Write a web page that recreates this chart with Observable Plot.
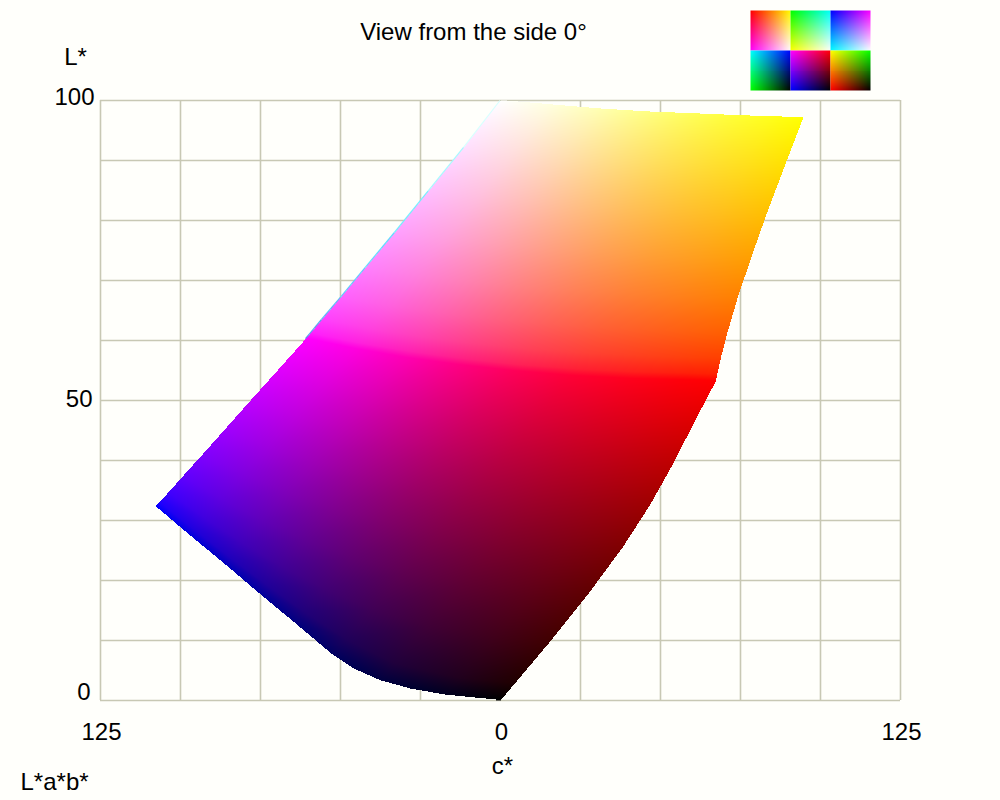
<!DOCTYPE html>
<html><head><meta charset="utf-8">
<script src="https://cdn.jsdelivr.net/npm/d3@7"></script>
<script src="https://cdn.jsdelivr.net/npm/@observablehq/plot@0.6"></script>
<style>html,body{margin:0;padding:0;background:#fffffb}svg{display:block}</style>
</head><body><div id="chart"></div>
<script>
// Axis ticks
const cGrid = [-125,-100,-75,-50,-25,0,25,50,75,100,125];
const lGrid = [0,10,20,30,40,50,60,70,80,90,100];
const cLabels = [-125,0,125];

// Displayed channel values of the mesh rows (red / green) and columns (blue)
const rowLevels = [255,223,191,159,128,96,64,32,0];
const blueLevels = [255,222,178,130,88,53,28,9,0];

// Upper face (white / yellow at the top, magenta / red at the bottom)
const upperC = [
 [0,15.3,30.7,45.9,60,73.2,84.1,91.3,94.5],
 [-11.4,4.1,19.8,35.4,50.3,64.5,76.6,84.9,88.6],
 [-22.5,-6.9,9,25.1,40.6,55.8,69.1,78.6,83],
 [-33,-17.4,-1.3,15.2,31.2,47.3,61.9,72.8,78.1],
 [-42.1,-26.5,-10.4,6.2,22.7,39.6,55.4,67.7,74],
 [-49.9,-34.5,-18.4,-1.7,15.1,32.6,49.4,63.3,70.8],
 [-55.8,-40.5,-24.5,-7.7,9.2,27.2,44.8,60,68.7],
 [-59.4,-44.2,-28.2,-11.4,5.6,23.8,41.9,58,67.6],
 [-60.8,-45.7,-29.7,-13,4.1,22.3,40.7,57.2,67.2]];
const upperL = [
 [100,99.3,98.6,98.1,97.8,97.5,97.3,97.2,97.1],
 [92.2,91.4,90.7,90.1,89.7,89.3,89.1,89,88.9],
 [84.9,83.9,83.1,82.4,81.9,81.5,81.2,81.1,81],
 [78,76.9,76,75.2,74.6,74.1,73.8,73.7,73.6],
 [72.2,70.9,69.8,68.9,68.2,67.7,67.3,67.1,67.1],
 [67.2,65.7,64.5,63.5,62.7,62.1,61.7,61.4,61.3],
 [63.5,61.9,60.5,59.4,58.5,57.8,57.4,57.1,57],
 [61.2,59.5,58.1,56.9,55.9,55.2,54.7,54.5,54.3],
 [60.3,58.6,57.1,55.9,54.9,54.1,53.6,53.4,53.2]];

// Lower face (magenta / red at the top, blue / black at the bottom)
const lowerC = [
 [-60.8,-45.7,-29.7,-13,4.1,22.3,40.7,57.2,67.2],
 [-69.7,-55,-39.4,-22.9,-5.9,12.5,31.4,49.1,60.7],
 [-78.3,-64.1,-48.9,-32.8,-16.1,2.2,21.5,40.4,54.1],
 [-86.3,-72.7,-58.3,-42.7,-26.5,-8.4,11.1,31.1,46.7],
 [-93.3,-80.5,-66.8,-52,-36.5,-18.9,0.5,21.3,38.1],
 [-99.4,-87.4,-74.7,-60.9,-46.4,-29.7,-10.9,10.2,27.6],
 [-103.9,-92.7,-81,-68.4,-55.2,-40.1,-22.6,-1.9,15.3],
 [-106.7,-96.1,-85,-73.5,-61.7,-48.4,-33,-12.9,4.4],
 [-107.9,-97.5,-86.8,-75.8,-64.7,-52.7,-37.7,-17.3,0]];
const lowerL = [
 [60.3,58.6,57.1,55.9,54.9,54.1,53.6,53.4,53.2],
 [55,53,51.2,49.7,48.6,47.7,47.1,46.7,46.6],
 [49.9,47.5,45.4,43.6,42.2,41.1,40.3,39.9,39.7],
 [45.1,42.3,39.8,37.6,35.9,34.4,33.4,32.9,32.6],
 [40.9,37.7,34.7,32,29.8,27.9,26.6,25.8,25.5],
 [37.3,33.6,30,26.7,23.8,21.3,19.5,18.3,17.9],
 [34.6,30.4,26.3,22.3,18.6,15.1,12.4,10.5,9.7],
 [33,28.5,23.9,19.3,14.8,10.2,6.1,3.7,2.8],
 [32.3,27.6,22.9,17.9,13,7.6,3.3,0.9,0]];

// Curved bottom edge near black, finer than the mesh
const edgeC = [-52.7,-45.8,-37.7,-28.2,-17.3,-6.5,0];
const edgeL = [7.6,5.2,3.3,1.9,0.9,0.34,0];
const edgeBlue = [96,80,64,48,32,16,0];

// Thin rim along the upper left edge
const rimColors = ["#d8ffff","#a8f8ff","#78ecff","#62dcff","#60ccff","#60b8f8","#5ca4f0","#5090ee"];

// Key swatches, top row then bottom row
const swatchTL = ["#ff0000","#00ff00","#0000ff","#00ffff","#ff00ff","#ffff00"];
const swatchTR = ["#ffff00","#00ffff","#ff00ff","#0000ff","#ff0000","#00ff00"];
const swatchBL = ["#ff00ff","#ffff00","#00ffff","#00ff00","#0000ff","#ff0000"];
const swatchBR = ["#ffffff","#ffffff","#ffffff","#000000","#000000","#000000"];
const swatchCEdges = [78.125,90.625,103.125,115.625];
const swatchLEdges = [115,108.333,101.667];

const FONT = "'Liberation Sans', Arial, sans-serif";
const INK = "#000";
const GRID = "#c8c8b4";
const FS = 24;

// Triangles of the colour mesh
const tris = [];
function mk(a,b,c){
  return {a,b,c,
    minx:Math.min(a[0],b[0],c[0]), maxx:Math.max(a[0],b[0],c[0]),
    miny:Math.min(a[1],b[1],c[1]), maxy:Math.max(a[1],b[1],c[1]),
    det:(b[1]-c[1])*(a[0]-c[0])+(c[0]-b[0])*(a[1]-c[1])};
}
function addFace(C, L, colorOf){
  for (let r = 0; r < rowLevels.length-1; r++) for (let k = 0; k < blueLevels.length-1; k++){
    const n = (i,j) => [C[i][j], L[i][j], ...colorOf(i,j)];
    const a = n(r,k), b = n(r,k+1), c = n(r+1,k), d = n(r+1,k+1);
    tris.push(mk(a,b,c), mk(b,d,c));
  }
}
addFace(upperC, upperL, (i,j)=>[255,rowLevels[i],blueLevels[j]]);
addFace(lowerC, lowerL, (i,j)=>{
  const t = rowLevels[i]/255;
  return [rowLevels[i],0,blueLevels[j]*t+rowLevels[j]*(1-t)];
});
for (let k = 0; k+2 < edgeC.length; k += 2){
  const e = j => [edgeC[j],edgeL[j],0,0,edgeBlue[j]];
  tris.push(mk(e(k),e(k+1),e(k+2)));
}

function meshColor(x,y){
  for (const t of tris){
    if (x<t.minx||x>t.maxx||y<t.miny||y>t.maxy) continue;
    const {a,b,c,det} = t;
    const u = ((b[1]-c[1])*(x-c[0])+(c[0]-b[0])*(y-c[1]))/det;
    const v = ((c[1]-a[1])*(x-c[0])+(a[0]-c[0])*(y-c[1]))/det;
    const w = 1-u-v;
    if (u<-1e-9||v<-1e-9||w<-1e-9) continue;
    return `rgb(${Math.round(u*a[2]+v*b[2]+w*c[2])},${Math.round(u*a[3]+v*b[3]+w*c[3])},${Math.round(u*a[4]+v*b[4]+w*c[4])})`;
  }
  return null;
}

function swatch(i){
  const col = i%3, row = Math.floor(i/3);
  const x1 = swatchCEdges[col], x2 = swatchCEdges[col+1], y1 = swatchLEdges[row], y2 = swatchLEdges[row+1];
  const tl=d3.rgb(swatchTL[i]), tr=d3.rgb(swatchTR[i]), bl=d3.rgb(swatchBL[i]), br=d3.rgb(swatchBR[i]);
  return Plot.raster({x1,x2,y1,y2,width:40,height:40,imageRendering:"pixelated",
    fill:(x,y)=>{
      const u=Math.min(1,Math.max(0,(x-x1)/(x2-x1))), v=Math.min(1,Math.max(0,(y1-y)/(y1-y2)));
      const f=k=>Math.round((tl[k]*(1-u)+tr[k]*u)*(1-v)+(bl[k]*(1-u)+br[k]*u)*v);
      return `rgb(${f("r")},${f("g")},${f("b")})`;
    }});
}

const rimIdx = d3.range(rimColors.length);
const label = (t,o) => Plot.text([t],{fontSize:FS,fill:INK,lineAnchor:"middle",...o});

const chart = Plot.plot({
  width:1000,height:800,
  marginLeft:100,marginRight:100,marginTop:100,marginBottom:100,
  x:{domain:[-125,125],axis:null},
  y:{domain:[0,100],axis:null},
  style:{background:"#fffffb",fontFamily:FONT},
  marks:[
    Plot.gridX(cGrid,{stroke:GRID,strokeOpacity:1,strokeWidth:1.6}),
    Plot.gridY(lGrid,{stroke:GRID,strokeOpacity:1,strokeWidth:1.6}),
    Plot.raster({x1:-125,x2:125,y1:0,y2:100,width:800,height:600,imageRendering:"pixelated",fill:meshColor}),
    Plot.link(rimIdx,{
      x1:i=>upperC[i][0],y1:i=>upperL[i][0],x2:i=>upperC[i+1][0],y2:i=>upperL[i+1][0],
      stroke:i=>rimColors[i],strokeWidth:1.2,dx:-0.5}),
    ...[0,1,2,3,4,5].map(swatch),
    Plot.axisX(cLabels,{anchor:"bottom",tickSize:0,tickPadding:0,tickFormat:Math.abs,fontSize:FS,fill:INK,label:null,dy:32,dx:1,textAnchor:"middle",lineAnchor:"middle"}),
    Plot.axisY([100],{anchor:"left",tickSize:0,tickPadding:0,fontSize:FS,fill:INK,label:null,dx:-6,dy:-3,lineAnchor:"middle"}),
    Plot.axisY([50],{anchor:"left",tickSize:0,tickPadding:0,fontSize:FS,fill:INK,label:null,dx:-8,dy:-1,lineAnchor:"middle"}),
    Plot.axisY([0],{anchor:"left",tickSize:0,tickPadding:0,fontSize:FS,fill:INK,label:null,dx:-10,dy:-8,lineAnchor:"middle"}),
    label("View from the side 0°",{frameAnchor:"top",dx:-27,dy:-68}),
    label("L*",{frameAnchor:"top-left",textAnchor:"middle",dx:-25,dy:-43}),
    label("c*",{frameAnchor:"bottom",dx:2,dy:66}),
    label("L*a*b*",{frameAnchor:"bottom-left",textAnchor:"start",dx:-80,dy:82})
  ]
});
document.getElementById("chart").append(chart);
</script></body></html>
